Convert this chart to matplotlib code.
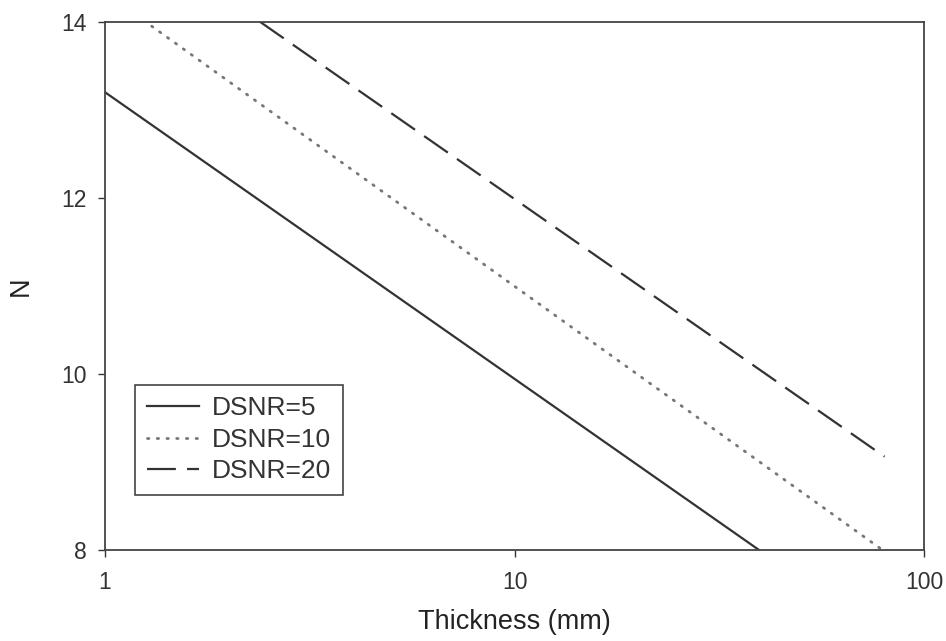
import matplotlib
matplotlib.use("Agg")
import matplotlib.pyplot as plt
from matplotlib.ticker import FixedLocator, FixedFormatter, NullLocator

plt.rcParams["font.family"] = ["Liberation Sans", "DejaVu Sans"]

# line endpoints (straight lines on log-x)
dsnr5_x = [1.0, 39.5]
dsnr5_y = [13.2, 8.0]
dsnr10_x = [1.30, 78.0]
dsnr10_y = [13.95, 8.02]
dsnr20_x = [2.39, 80.0]
dsnr20_y = [14.0, 9.06]

x_ticks = [1, 10, 100]
x_labels = ["1", "10", "100"]
y_ticks = [8, 10, 12, 14]

fig = plt.figure(figsize=(9.46, 6.41), dpi=100, facecolor="white")
ax = fig.add_axes([0.111, 0.142, 0.866, 0.824])

ax.plot(dsnr5_x, dsnr5_y, color="#333333", linewidth=1.6, label="DSNR=5")
ax.plot(dsnr10_x, dsnr10_y, color="#777777", linewidth=2.0,
        linestyle=(0, (0.5, 3.0)), dash_capstyle="round", label="DSNR=10")
ax.plot(dsnr20_x, dsnr20_y, color="#333333", linewidth=1.6,
        linestyle=(0, (13, 5)), label="DSNR=20")

ax.set_xscale("log")
ax.set_xlim(1, 100)
ax.set_ylim(8, 14)
ax.xaxis.set_major_locator(FixedLocator(x_ticks))
ax.xaxis.set_major_formatter(FixedFormatter(x_labels))
ax.xaxis.set_minor_locator(NullLocator())
ax.set_yticks(y_ticks)

ax.tick_params(direction="out", length=5, width=1, colors="#333333",
               labelsize=16.5, pad=8)
ax.tick_params(axis="x", pad=10)
for spine in ax.spines.values():
    spine.set_edgecolor("#444444")
    spine.set_linewidth(1.3)

ax.set_xlabel("Thickness (mm)", fontsize=19.5, color="#222222", labelpad=11)
ax.set_ylabel("N", fontsize=19.5, color="#222222", labelpad=20)

leg = ax.legend(loc="lower left", bbox_to_anchor=(0.037, 0.104),
                borderaxespad=0, fontsize=19, frameon=True, fancybox=False,
                framealpha=1, edgecolor="#444444", handlelength=1.97,
                borderpad=0.45, labelspacing=0.28, handletextpad=0.5)
leg.get_frame().set_linewidth(1.2)
for t in leg.get_texts():
    t.set_color("#333333")

fig.savefig("out.png", dpi=100, facecolor="white")
